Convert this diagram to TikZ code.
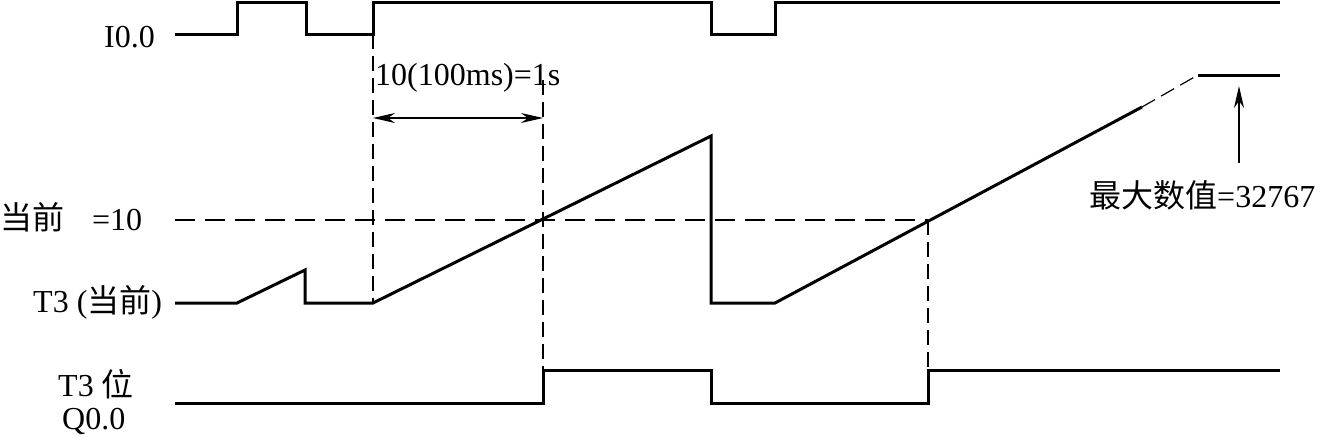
\documentclass[tikz,border=0pt]{standalone}
\usepackage{fontspec}
\setmainfont{Liberation Serif}
\newfontfamily\cjk{Noto Sans CJK SC}
\usetikzlibrary{arrows.meta}

\tikzset{
  sig/.style={line width=3pt, line join=miter},
  guide/.style={line width=1.2pt, dash pattern=on 15pt off 7pt},
  level/.style={line width=1.2pt, dash pattern=on 20pt off 10pt},
  dimline/.style={line width=1.2pt},
  dimtip/.tip={Stealth[length=22pt, width=10pt, inset=7pt]},
  txt/.style={font=\fontsize{32}{36}\selectfont, inner sep=0pt, anchor=base west},
}

\begin{document}
\begin{tikzpicture}[x=1pt, y=-1pt]
  \useasboundingbox (0,0) rectangle (1317,437);

  % Signalnamen
  \node[txt] (nameI) at (104,47) {I0.0};
  \node[txt] (nameCur) at (0,229) {{\cjk 当前}};
  \node[txt] (nameTen) at (92,230) {=10};
  \node[txt] (nameT) at (33,312) {T3 ({\cjk 当前})};
  \node[txt] (nameBit) at (58,396) {T3 {\cjk 位}};
  \node[txt] (nameQ) at (62,429) {Q0.0};

  % Zeitpunkte
  \coordinate (on) at (373,34);
  \coordinate (ramp) at (373,303);
  \coordinate (done) at (543,80);
  \coordinate (doneQ) at (543,370);
  \coordinate (cross) at (928,220);
  \coordinate (crossQ) at (928,370);
  \coordinate (lvl) at (175,220);

  % Eingang I0.0
  \draw[sig] (175,34) -- (237,34) -- (237,2) -- (306,2) -- (306,34)
    -- (on) -- (373,2) -- (711,2) -- (711,34) -- (775,34) -- (775,2) -- (1280,2);

  % Istwert T3
  \draw[sig] (175,303) -- (237,303) -- (305,270) -- (305,303) -- (ramp)
    -- (711,136) -- (711,303) -- (775,303) -- (1142,107) coordinate (rampend);
  \draw[guide] (rampend) -- (1198,75) coordinate (maxleft);
  \draw[sig] (maxleft) -- (1280,75);

  % T3-Bit / Q0.0
  \draw[sig] (175,403) -- (543,403) -- (doneQ) -- (711,370) -- (711,403)
    -- (928,403) -- (crossQ) -- (1280,370);

  % Hilfslinien
  \draw[guide] (on) -- (ramp);
  \draw[guide] (done) -- (doneQ);
  \draw[guide] (cross) -- (crossQ);
  \draw[level] (lvl) -- (cross);

  % Zeitmass 1 s
  \coordinate (dimL) at (373,118);
  \coordinate (dimR) at (543,118);
  \draw[dimline, dimtip-dimtip] (dimL) -- (dimR);
  \node[txt] (dimtext) at (375,85) {10(100ms)=1s};

  % Maximalwert
  \node[txt] (maxtext) at (1089,207) {{\cjk 最大数值}=32767};
  \coordinate (maxfoot) at (1239,163);
  \coordinate (maxhead) at (1239,86);
  \draw[dimline, -dimtip] (maxfoot) -- (maxhead);
\end{tikzpicture}
\end{document}
